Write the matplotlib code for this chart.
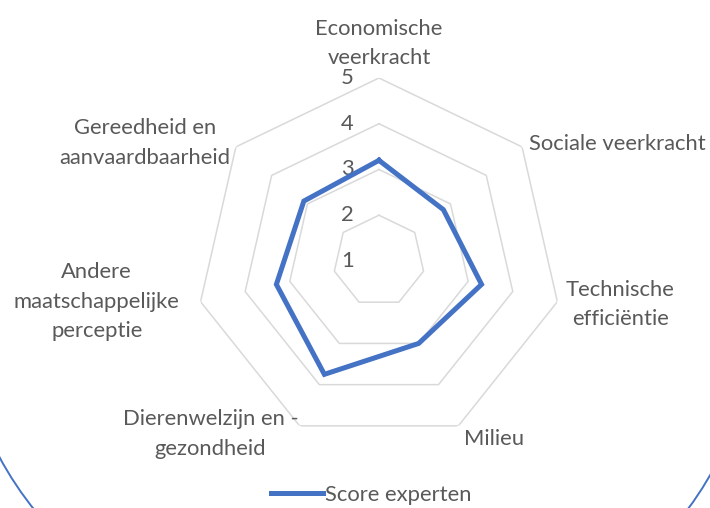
import numpy as np
import matplotlib.pyplot as plt
from matplotlib.patches import Arc
from matplotlib.transforms import IdentityTransform

# Data
categories = ['Economische\nveerkracht', 'Sociale veerkracht', 'Technische\nefficiëntie',
              'Milieu', 'Dierenwelzijn en -\ngezondheid', 'Andere\nmaatschappelijke\nperceptie',
              'Gereedheid en\naanvaardbaarheid']
scores = [3.2, 2.8, 3.3, 3.0, 3.75, 3.3, 3.1]
ring_values = [2, 3, 4, 5]
tick_labels = ['1', '2', '3', '4', '5']

plt.rcParams['font.family'] = ['Lato', 'DejaVu Sans']
text_color = '#595959'
grid_color = '#d9d9d9'
blue = '#4472C4'
fs = 15.8

n = len(categories)
angles = np.arange(n) * 2 * np.pi / n
angles_closed = np.append(angles, angles[0])

fig = plt.figure(figsize=(7.1, 5.08), dpi=100)
ax = fig.add_axes([0.276, 0.126, 0.5155, 0.7205], projection='polar')
ax.set_theta_zero_location('N')
ax.set_theta_direction(-1)
ax.set_ylim(1, 5)
ax.grid(False)
ax.spines['polar'].set_visible(False)
ax.set_xticks([])
ax.set_yticks([])
ax.patch.set_alpha(0)

# polygon grid
for v in ring_values:
    ax.plot(angles_closed, [v] * (n + 1), color=grid_color, lw=1.1, zorder=1)

# value labels along the first axis
for i, lab in enumerate(tick_labels):
    ax.annotate(lab, xy=(0, i + 1), xytext=(-18, 0), textcoords='offset points',
                ha='right', va='center', fontsize=fs, color=text_color, zorder=2)

# series
line, = ax.plot(angles_closed, scores + scores[:1], color=blue, lw=3.6,
                solid_joinstyle='miter', zorder=3, label='Score experten')

# category labels
offsets = [(0, 7), (5, 2), (6, -2), (4, -2), (-1, -6), (-15, 0), (-4, 3)]
aligns = [('center', 'bottom'), ('left', 'center'), ('left', 'center'), ('left', 'top'),
          ('right', 'center'), ('right', 'center'), ('right', 'center')]
for ang, lab, off, (ha, va) in zip(angles, categories, offsets, aligns):
    ax.annotate(lab, xy=(ang, 5), xytext=off, textcoords='offset points',
                ha=ha, va=va, multialignment='center', fontsize=fs,
                color=text_color, linespacing=1.6, annotation_clip=False)

fig.legend(handles=[line], loc='center', bbox_to_anchor=(0.523, 0.026), frameon=False,
           fontsize=fs, handlelength=2.35, handletextpad=0.1, labelcolor=text_color)

# rounded chart border (bottom corners visible)
fig.patches.append(Arc((304, 215), 692, 692, theta1=180, theta2=270, color=blue,
                       lw=1.4, transform=IdentityTransform(), figure=fig))
fig.patches.append(Arc((410, 205), 692, 692, theta1=270, theta2=360, color=blue,
                       lw=1.4, transform=IdentityTransform(), figure=fig))

fig.savefig('out.png', dpi=100, facecolor='white')
